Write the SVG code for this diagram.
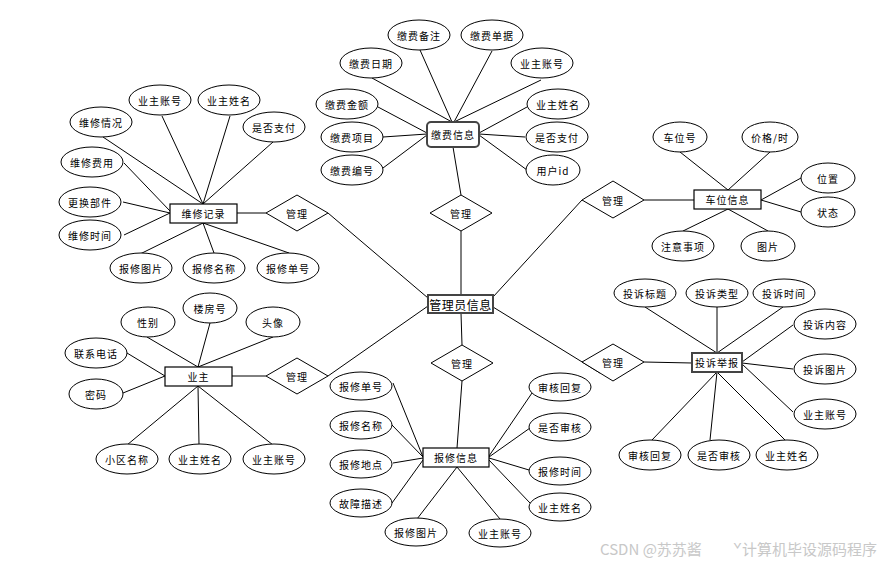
<svg xmlns="http://www.w3.org/2000/svg" width="896" height="562" viewBox="0 0 896 562">
<style>
.e{fill:#fff;stroke:#000;stroke-width:1}
.r{fill:#fff;stroke:#000;stroke-width:1.2}
.r2{fill:#fff;stroke:#444;stroke-width:2}
.d{fill:#fff;stroke:#000;stroke-width:1}
.c line{stroke:#000;stroke-width:1}
text{font-family:"Noto Sans CJK SC","Liberation Sans",sans-serif;font-size:10px;letter-spacing:1px;fill:#000;text-anchor:middle;dominant-baseline:central}
.big{font-size:12px;letter-spacing:0.5px}
.wm{font-size:15px;fill:#c8c8c8;text-anchor:start;letter-spacing:0}
</style>
<rect width="896" height="562" fill="#fff"/>
<g class="c" id="connectors">
<line x1="372" y1="78" x2="452" y2="122"/>
<line x1="420" y1="50" x2="452" y2="122"/>
<line x1="492" y1="51" x2="454" y2="122"/>
<line x1="541" y1="80" x2="454" y2="122"/>
<line x1="378" y1="107" x2="427" y2="133"/>
<line x1="383" y1="137" x2="427" y2="134"/>
<line x1="383" y1="168" x2="427" y2="135"/>
<line x1="527" y1="107" x2="479" y2="133"/>
<line x1="525" y1="137" x2="479" y2="134"/>
<line x1="527" y1="170" x2="479" y2="135"/>
<line x1="453" y1="147" x2="461" y2="195"/>
<line x1="461" y1="231" x2="461" y2="295"/>
<line x1="103" y1="137" x2="203" y2="204"/>
<line x1="162" y1="116" x2="203" y2="204"/>
<line x1="230" y1="116" x2="203" y2="204"/>
<line x1="273" y1="142" x2="203" y2="204"/>
<line x1="124" y1="163" x2="170" y2="211"/>
<line x1="123" y1="202" x2="170" y2="213"/>
<line x1="124" y1="235" x2="170" y2="213"/>
<line x1="203" y1="223" x2="138" y2="255"/>
<line x1="203" y1="223" x2="214" y2="253"/>
<line x1="203" y1="223" x2="289" y2="253"/>
<line x1="237" y1="213" x2="266" y2="213"/>
<line x1="328" y1="213" x2="428" y2="298"/>
<line x1="728" y1="190" x2="680" y2="152"/>
<line x1="728" y1="190" x2="770" y2="152"/>
<line x1="761" y1="200" x2="801" y2="178"/>
<line x1="761" y1="200" x2="801" y2="212"/>
<line x1="728" y1="209" x2="683" y2="231"/>
<line x1="728" y1="209" x2="768" y2="231"/>
<line x1="644" y1="200" x2="694" y2="200"/>
<line x1="582" y1="200" x2="493" y2="297"/>
<line x1="717" y1="353" x2="645" y2="307"/>
<line x1="717" y1="353" x2="717" y2="307"/>
<line x1="717" y1="353" x2="783" y2="307"/>
<line x1="742" y1="362" x2="793" y2="325"/>
<line x1="742" y1="363" x2="793" y2="369"/>
<line x1="742" y1="364" x2="793" y2="412"/>
<line x1="717" y1="372" x2="652" y2="440"/>
<line x1="717" y1="372" x2="710" y2="440"/>
<line x1="717" y1="372" x2="785" y2="440"/>
<line x1="644" y1="362" x2="692" y2="363"/>
<line x1="600" y1="373" x2="493" y2="307"/>
<line x1="198" y1="367" x2="147" y2="337"/>
<line x1="198" y1="367" x2="210" y2="323"/>
<line x1="198" y1="367" x2="273" y2="337"/>
<line x1="165" y1="376" x2="127" y2="353"/>
<line x1="165" y1="376" x2="123" y2="393"/>
<line x1="198" y1="386" x2="127" y2="445"/>
<line x1="198" y1="386" x2="199" y2="445"/>
<line x1="198" y1="386" x2="273" y2="445"/>
<line x1="232" y1="376" x2="266" y2="376"/>
<line x1="328" y1="376" x2="428" y2="306"/>
<line x1="461" y1="313" x2="462" y2="345"/>
<line x1="462" y1="381" x2="457" y2="448"/>
<line x1="393" y1="383" x2="423" y2="457"/>
<line x1="392" y1="425" x2="423" y2="457"/>
<line x1="393" y1="463" x2="423" y2="458"/>
<line x1="392" y1="503" x2="423" y2="460"/>
<line x1="457" y1="467" x2="417" y2="519"/>
<line x1="457" y1="467" x2="500" y2="519"/>
<line x1="532" y1="393" x2="489" y2="456"/>
<line x1="530" y1="428" x2="489" y2="457"/>
<line x1="529" y1="470" x2="489" y2="458"/>
<line x1="530" y1="503" x2="489" y2="460"/>
</g>

<g id="admin"><rect class="r2" x="428" y="295" width="65" height="18"/><text class="big" x="460.5" y="304">管理员信息</text></g>

<g id="pay"><rect class="r2" x="427" y="122" width="52" height="25" rx="4"/><text x="453" y="134.5">缴费信息</text></g>
<g id="pay-a1"><ellipse class="e" cx="419" cy="35" rx="31" ry="15"/><text x="419" y="35">缴费备注</text></g>
<g id="pay-a2"><ellipse class="e" cx="492" cy="35" rx="31" ry="15"/><text x="492" y="35">缴费单据</text></g>
<g id="pay-a3"><ellipse class="e" cx="371" cy="63" rx="31" ry="15"/><text x="371" y="63">缴费日期</text></g>
<g id="pay-a4"><ellipse class="e" cx="542" cy="63" rx="31" ry="15"/><text x="542" y="63">业主账号</text></g>
<g id="pay-a5"><ellipse class="e" cx="347" cy="104" rx="31" ry="15"/><text x="347" y="104">缴费金额</text></g>
<g id="pay-a6"><ellipse class="e" cx="352" cy="137" rx="31" ry="15"/><text x="352" y="137">缴费项目</text></g>
<g id="pay-a7"><ellipse class="e" cx="352" cy="170" rx="31" ry="15"/><text x="352" y="170">缴费编号</text></g>
<g id="pay-a8"><ellipse class="e" cx="558" cy="104" rx="31" ry="15"/><text x="558" y="104">业主姓名</text></g>
<g id="pay-a9"><ellipse class="e" cx="557" cy="137" rx="31" ry="15"/><text x="557" y="137">是否支付</text></g>
<g id="pay-a10"><ellipse class="e" cx="553" cy="170" rx="27" ry="15"/><text x="553" y="170">用户id</text></g>
<g id="rel-pay"><polygon class="d" points="461,195 492,213 461,231 430,213"/><text x="461" y="213">管理</text></g>

<g id="repair-record"><rect class="r" x="170" y="204" width="67" height="19"/><text x="203.5" y="213.5">维修记录</text></g>
<g id="rr-a1"><ellipse class="e" cx="160" cy="100" rx="31" ry="15"/><text x="160" y="100">业主账号</text></g>
<g id="rr-a2"><ellipse class="e" cx="229" cy="100" rx="31" ry="15"/><text x="229" y="100">业主姓名</text></g>
<g id="rr-a3"><ellipse class="e" cx="101" cy="122" rx="31" ry="15"/><text x="101" y="122">维修情况</text></g>
<g id="rr-a4"><ellipse class="e" cx="274" cy="127" rx="31" ry="15"/><text x="274" y="127">是否支付</text></g>
<g id="rr-a5"><ellipse class="e" cx="92" cy="162" rx="31" ry="15"/><text x="92" y="162">维修费用</text></g>
<g id="rr-a6"><ellipse class="e" cx="90" cy="202" rx="31" ry="15"/><text x="90" y="202">更换部件</text></g>
<g id="rr-a7"><ellipse class="e" cx="90" cy="235" rx="31" ry="15"/><text x="90" y="235">维修时间</text></g>
<g id="rr-a8"><ellipse class="e" cx="141" cy="268" rx="31" ry="15"/><text x="141" y="268">报修图片</text></g>
<g id="rr-a9"><ellipse class="e" cx="214" cy="268" rx="31" ry="15"/><text x="214" y="268">报修名称</text></g>
<g id="rr-a10"><ellipse class="e" cx="288" cy="268" rx="31" ry="15"/><text x="288" y="268">报修单号</text></g>
<g id="rel-rr"><polygon class="d" points="297,195 328,213 297,231 266,213"/><text x="297" y="213">管理</text></g>

<g id="parking"><rect class="r" x="694" y="190" width="67" height="19"/><text x="727.5" y="199.5">车位信息</text></g>
<g id="pk-a1"><ellipse class="e" cx="680" cy="137" rx="27" ry="15"/><text x="680" y="137">车位号</text></g>
<g id="pk-a2"><ellipse class="e" cx="770" cy="137" rx="28" ry="15"/><text x="770" y="137">价格/时</text></g>
<g id="pk-a3"><ellipse class="e" cx="828" cy="178" rx="27" ry="15"/><text x="828" y="178">位置</text></g>
<g id="pk-a4"><ellipse class="e" cx="828" cy="212" rx="27" ry="15"/><text x="828" y="212">状态</text></g>
<g id="pk-a5"><ellipse class="e" cx="683" cy="246" rx="31" ry="15"/><text x="683" y="246">注意事项</text></g>
<g id="pk-a6"><ellipse class="e" cx="768" cy="246" rx="27" ry="15"/><text x="768" y="246">图片</text></g>
<g id="rel-pk"><polygon class="d" points="613,181 644,200 613,218 582,200"/><text x="613" y="200">管理</text></g>

<g id="complaint"><rect class="r2" x="692" y="353" width="50" height="19"/><text x="717" y="362.5">投诉举报</text></g>
<g id="cp-a1"><ellipse class="e" cx="645" cy="293" rx="31" ry="14"/><text x="645" y="293">投诉标题</text></g>
<g id="cp-a2"><ellipse class="e" cx="717" cy="293" rx="31" ry="14"/><text x="717" y="293">投诉类型</text></g>
<g id="cp-a3"><ellipse class="e" cx="784" cy="293" rx="31" ry="14"/><text x="784" y="293">投诉时间</text></g>
<g id="cp-a4"><ellipse class="e" cx="825" cy="324" rx="31" ry="15"/><text x="825" y="324">投诉内容</text></g>
<g id="cp-a5"><ellipse class="e" cx="825" cy="369" rx="31" ry="15"/><text x="825" y="369">投诉图片</text></g>
<g id="cp-a6"><ellipse class="e" cx="825" cy="414" rx="31" ry="15"/><text x="825" y="414">业主账号</text></g>
<g id="cp-a7"><ellipse class="e" cx="650" cy="455" rx="31" ry="15"/><text x="650" y="455">审核回复</text></g>
<g id="cp-a8"><ellipse class="e" cx="719" cy="455" rx="31" ry="15"/><text x="719" y="455">是否审核</text></g>
<g id="cp-a9"><ellipse class="e" cx="787" cy="455" rx="31" ry="15"/><text x="787" y="455">业主姓名</text></g>
<g id="rel-cp"><polygon class="d" points="613,344 644,362 613,381 582,362"/><text x="613" y="362">管理</text></g>

<g id="owner"><rect class="r" x="165" y="367" width="67" height="19"/><text x="198.5" y="376.5">业主</text></g>
<g id="ow-a1"><ellipse class="e" cx="148" cy="322" rx="27" ry="15"/><text x="148" y="322">性别</text></g>
<g id="ow-a2"><ellipse class="e" cx="210" cy="308" rx="27" ry="15"/><text x="210" y="308">楼房号</text></g>
<g id="ow-a3"><ellipse class="e" cx="273" cy="322" rx="27" ry="15"/><text x="273" y="322">头像</text></g>
<g id="ow-a4"><ellipse class="e" cx="96" cy="353" rx="31" ry="15"/><text x="96" y="353">联系电话</text></g>
<g id="ow-a5"><ellipse class="e" cx="96" cy="394" rx="27" ry="15"/><text x="96" y="394">密码</text></g>
<g id="ow-a6"><ellipse class="e" cx="127" cy="459" rx="31" ry="15"/><text x="127" y="459">小区名称</text></g>
<g id="ow-a7"><ellipse class="e" cx="200" cy="459" rx="31" ry="15"/><text x="200" y="459">业主姓名</text></g>
<g id="ow-a8"><ellipse class="e" cx="274" cy="459" rx="31" ry="15"/><text x="274" y="459">业主账号</text></g>
<g id="rel-ow"><polygon class="d" points="297,358 328,376 297,394 266,376"/><text x="297" y="376">管理</text></g>

<g id="repair"><rect class="r" x="423" y="448" width="66" height="19"/><text x="456" y="457.5">报修信息</text></g>
<g id="rp-a1"><ellipse class="e" cx="361" cy="386" rx="31" ry="14"/><text x="361" y="386">报修单号</text></g>
<g id="rp-a2"><ellipse class="e" cx="361" cy="425" rx="31" ry="14"/><text x="361" y="425">报修名称</text></g>
<g id="rp-a3"><ellipse class="e" cx="361" cy="464" rx="31" ry="14"/><text x="361" y="464">报修地点</text></g>
<g id="rp-a4"><ellipse class="e" cx="361" cy="503" rx="31" ry="14"/><text x="361" y="503">故障描述</text></g>
<g id="rp-a5"><ellipse class="e" cx="416" cy="532" rx="31" ry="14"/><text x="416" y="532">报修图片</text></g>
<g id="rp-a6"><ellipse class="e" cx="500" cy="533" rx="31" ry="14"/><text x="500" y="533">业主账号</text></g>
<g id="rp-a7"><ellipse class="e" cx="560" cy="387" rx="31" ry="14"/><text x="560" y="387">审核回复</text></g>
<g id="rp-a8"><ellipse class="e" cx="560" cy="427" rx="31" ry="14"/><text x="560" y="427">是否审核</text></g>
<g id="rp-a9"><ellipse class="e" cx="560" cy="471" rx="31" ry="14"/><text x="560" y="471">报修时间</text></g>
<g id="rp-a10"><ellipse class="e" cx="560" cy="507" rx="31" ry="14"/><text x="560" y="507">业主姓名</text></g>
<g id="rel-rp"><polygon class="d" points="462,345 493,363 462,381 431,363"/><text x="462" y="363">管理</text></g>

<text class="wm" x="600" y="548">CSDN @苏苏酱</text>
<text class="wm" x="733" y="548">ˇ计算机毕设源码程序</text>
</svg>
